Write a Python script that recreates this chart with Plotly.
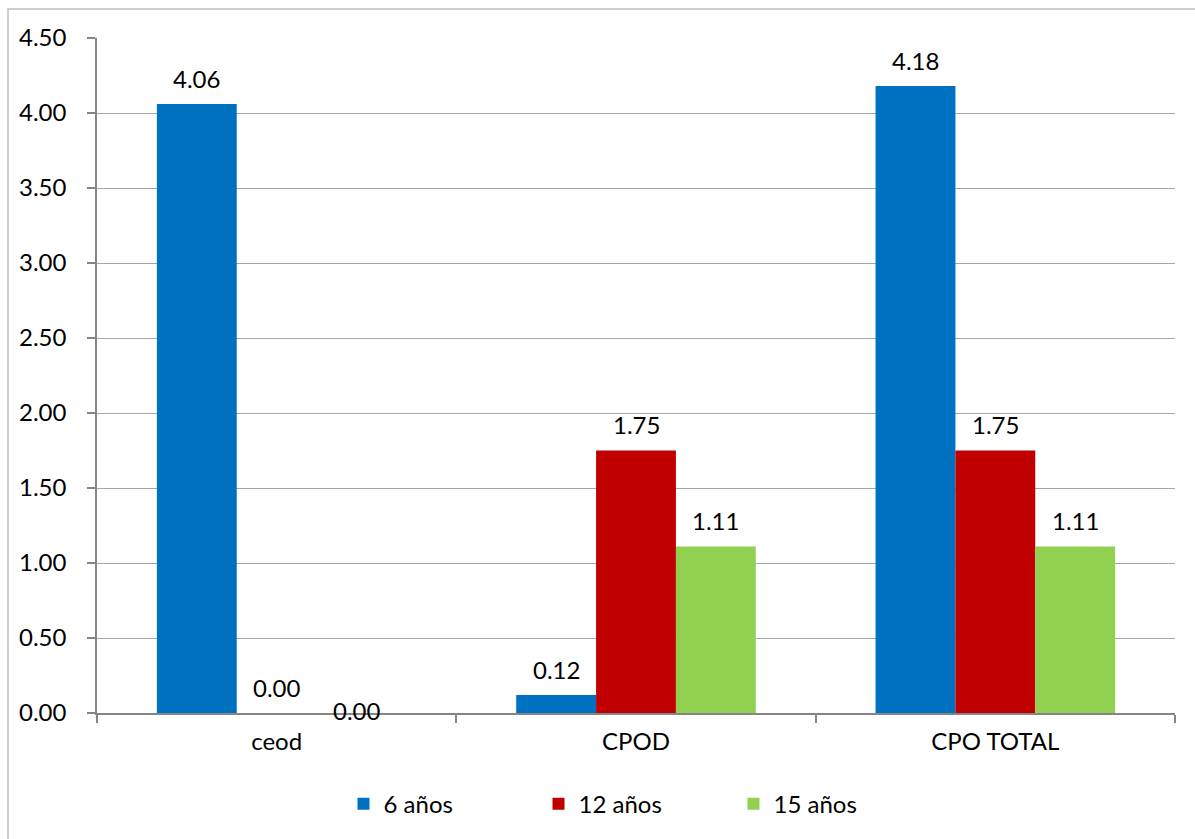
import plotly.graph_objects as go

categories = ["ceod", "CPOD", "CPO TOTAL"]
series_names = ["6 años", "12 años", "15 años"]
vals_6 = [4.06, 0.12, 4.18]
vals_12 = [0.00, 1.75, 1.75]
vals_15 = [0.00, 1.11, 1.11]
y_ticks = [0, 0.5, 1, 1.5, 2, 2.5, 3, 3.5, 4, 4.5]

colors = ["#0070C0", "#C00000", "#92D050"]
FONT = "Lato"
FS = 24

W, H = 1195, 839
ML, MR, MT, MB = 97, 20, 38, 126
PW = W - ML - MR
PH = H - MT - MB
BARGAP = 1 / 3

fig = go.Figure()
all_vals = [vals_6, vals_12, vals_15]
for name, vals, c in zip(series_names, all_vals, colors):
    fig.add_trace(go.Bar(x=categories, y=vals, name=name, marker_color=c,
                         marker_line_width=0))

bar_px = PW / len(categories) * (1 - BARGAP) / len(series_names)
annotations = []
for i, vals in enumerate(all_vals):
    for j, v in enumerate(vals):
        shift = 26
        # the second zero label in the first group sits lower, as in the source
        if i == 2 and j == 0:
            shift = 3
        annotations.append(dict(
            x=categories[j], y=v, xref="x", yref="y", text=f"{v:.2f}",
            showarrow=False, xshift=(i - 1) * bar_px, yshift=shift,
            yanchor="middle", font=dict(family=FONT, size=FS, color="#000")))

fig.update_layout(
    width=W, height=H,
    margin=dict(l=ML, r=MR, t=MT, b=MB),
    paper_bgcolor="white", plot_bgcolor="white",
    barmode="group", bargap=BARGAP, bargroupgap=0,
    font=dict(family=FONT, size=FS, color="#000"),
    annotations=annotations,
    legend=dict(orientation="h", x=0.5, xanchor="center", y=-0.135, yanchor="middle",
                font=dict(family=FONT, size=FS, color="#000"),
                entrywidth=150, entrywidthmode="pixels", traceorder="normal"),
    shapes=[dict(type="rect", xref="paper", yref="paper",
                 x0=(8 - ML) / PW, x1=(W + 10 - ML) / PW,
                 y0=-(MB + 10) / PH, y1=1 + (MT - 9) / PH,
                 line=dict(color="#BFBFBF", width=1.5), fillcolor="rgba(0,0,0,0)",
                 layer="below")],
)
fig.update_xaxes(showline=True, linecolor="#868686", linewidth=1.5,
                 ticks="outside", tickson="boundaries", ticklen=8, tickcolor="#868686",
                 tickwidth=1.5, showgrid=False, ticklabelstandoff=6,
                 tickfont=dict(family=FONT, size=FS, color="#000"))
fig.update_yaxes(range=[0, 4.5], tickvals=y_ticks, ticktext=[f"{t:.2f}" for t in y_ticks],
                 showline=True, linecolor="#868686", linewidth=1.5,
                 ticks="outside", ticklen=8, tickcolor="#868686", tickwidth=1.5,
                 showgrid=True, gridcolor="#A6A6A6", gridwidth=1,
                 zeroline=False, ticklabelstandoff=16,
                 tickfont=dict(family=FONT, size=FS, color="#000"))

fig.write_html("out.html")
